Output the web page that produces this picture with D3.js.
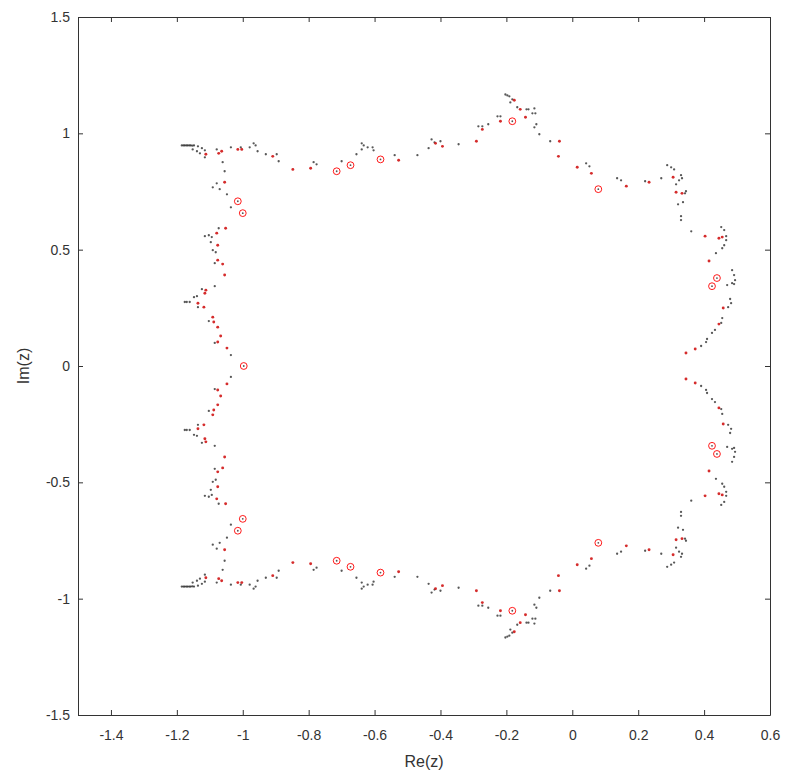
<!DOCTYPE html>
<html>
<head>
<meta charset="utf-8">
<script src="https://cdn.jsdelivr.net/npm/d3@7"></script>
<style>
  html, body { margin: 0; padding: 0; background: #fff; }
  svg { display: block; }
  text { font-family: "Liberation Sans", Arial, Helvetica, sans-serif; }
</style>
</head>
<body>
<div id="chart"></div>
<script>
// Axis ranges and ticks
const xDomain = [-1.5, 0.6];
const yDomain = [-1.5, 1.5];
const xTicks = [-1.4, -1.2, -1, -0.8, -0.6, -0.4, -0.2, 0, 0.2, 0.4, 0.6];
const yTicks = [-1.5, -1, -0.5, 0, 0.5, 1, 1.5];

// Black dots, upper half [re, im]
const blackUpper = [
  [-1.185,0.948],[-1.180,0.948],[-1.176,0.948],[-1.171,0.948],[-1.167,0.948],[-1.162,0.948],[-1.158,0.948],[-1.153,0.947],[-1.148,0.948],
  [-1.136,0.944],[-1.124,0.936],[-1.152,0.931],[-1.139,0.923],[-1.130,0.914],[-1.115,0.927],[-1.115,0.897],[-1.079,0.931],
  [-1.061,0.876],[-1.055,0.837],[-1.091,0.768],[-1.079,0.785],[-1.070,0.760],[-1.048,0.738],[-1.036,0.682],[-1.073,0.592],
  [-1.115,0.558],[-1.103,0.562],[-1.094,0.554],[-1.097,0.532],[-1.091,0.498],[-1.082,0.489],[-1.085,0.442],[-1.085,0.343],
  [-1.124,0.330],[-1.139,0.300],[-1.148,0.296],[-1.170,0.275],[-1.161,0.275],[-1.176,0.275],[-1.136,0.253],[-1.103,0.193],
  [-1.085,0.099],[-1.036,0.047],
  [-1.036,0.940],[-1.006,0.940],[-0.979,0.940],[-0.967,0.957],[-0.961,0.948],[-0.955,0.923],[-0.930,0.910],[-0.897,0.910],
  [-0.891,0.880],[-0.785,0.876],[-0.776,0.867],[-0.700,0.880],[-0.655,0.910],[-0.639,0.957],[-0.633,0.948],[-0.621,0.940],
  [-0.639,0.931],[-0.606,0.940],[-0.603,0.927],[-0.539,0.906],[-0.470,0.906],[-0.436,0.936],[-0.427,0.974],[-0.418,0.961],
  [-0.400,0.966],[-0.345,0.953],[-0.285,1.030],[-0.273,1.030],[-0.255,1.039],[-0.227,1.073],[-0.218,1.073],[-0.167,1.112],
  [-0.139,1.103],[-0.133,1.103],[-0.115,1.107],[-0.112,1.086],[-0.121,1.086],[-0.109,1.039],[-0.115,1.026],[-0.100,0.996],
  [-0.067,0.966],[-0.203,1.167],[-0.197,1.163],[-0.191,1.159],[-0.182,1.146],[-0.188,1.133],
  [0.042,0.871],[0.052,0.858],[0.136,0.807],[0.148,0.798],[0.221,0.794],[0.270,0.807],[0.288,0.863],[0.300,0.854],
  [0.309,0.845],[0.330,0.820],[0.333,0.807],[0.324,0.798],[0.315,0.781],[0.345,0.751],[0.342,0.742],[0.336,0.704],
  [0.321,0.695],[0.330,0.644],[0.330,0.627],[0.361,0.579],[0.452,0.597],[0.461,0.584],[0.467,0.558],[0.467,0.541],
  [0.461,0.519],[0.455,0.506],[0.436,0.485],[0.485,0.412],[0.491,0.391],[0.494,0.369],[0.491,0.352],[0.470,0.348],
  [0.485,0.356],[0.479,0.288],[0.482,0.270],[0.473,0.253],[0.455,0.206],[0.452,0.185],[0.433,0.155],[0.424,0.142],
  [0.409,0.116],[0.406,0.103],[0.391,0.086]
];

// Black dots, lower half [re, im]
const blackLower = [
  [-1.185,-0.948],[-1.180,-0.948],[-1.176,-0.948],[-1.171,-0.948],[-1.167,-0.948],[-1.162,-0.948],[-1.158,-0.948],[-1.153,-0.947],[-1.148,-0.948],
  [-1.136,-0.944],[-1.124,-0.936],[-1.152,-0.931],[-1.139,-0.923],[-1.130,-0.914],[-1.115,-0.927],[-1.115,-0.897],[-1.079,-0.931],
  [-1.061,-0.876],[-1.055,-0.837],[-1.091,-0.768],[-1.079,-0.785],[-1.070,-0.760],[-1.048,-0.738],[-1.036,-0.682],[-1.073,-0.592],
  [-1.115,-0.558],[-1.103,-0.562],[-1.094,-0.554],[-1.097,-0.532],[-1.091,-0.498],[-1.082,-0.489],[-1.085,-0.442],[-1.085,-0.343],
  [-1.124,-0.330],[-1.139,-0.300],[-1.148,-0.296],[-1.170,-0.275],[-1.161,-0.275],[-1.176,-0.275],[-1.136,-0.253],[-1.103,-0.193],
  [-1.085,-0.099],[-1.036,-0.047],
  [-1.036,-0.940],[-1.006,-0.940],[-0.979,-0.940],[-0.967,-0.957],[-0.961,-0.948],[-0.955,-0.923],[-0.930,-0.910],[-0.897,-0.910],
  [-0.891,-0.880],[-0.785,-0.876],[-0.776,-0.867],[-0.700,-0.880],[-0.655,-0.910],[-0.639,-0.957],[-0.633,-0.948],[-0.621,-0.940],
  [-0.639,-0.931],[-0.606,-0.940],[-0.603,-0.927],[-0.539,-0.906],[-0.470,-0.906],[-0.436,-0.936],[-0.427,-0.974],[-0.418,-0.961],
  [-0.400,-0.966],[-0.345,-0.953],[-0.285,-1.030],[-0.273,-1.030],[-0.255,-1.039],[-0.227,-1.073],[-0.218,-1.073],[-0.167,-1.112],
  [-0.139,-1.103],[-0.133,-1.103],[-0.115,-1.107],[-0.112,-1.086],[-0.121,-1.086],[-0.109,-1.039],[-0.115,-1.026],[-0.100,-0.996],
  [-0.067,-0.966],[-0.203,-1.167],[-0.197,-1.163],[-0.191,-1.159],[-0.182,-1.146],[-0.188,-1.133],
  [0.042,-0.871],[0.052,-0.858],[0.136,-0.807],[0.148,-0.798],[0.221,-0.794],[0.270,-0.807],[0.288,-0.863],[0.300,-0.854],
  [0.309,-0.845],[0.330,-0.820],[0.333,-0.807],[0.324,-0.798],[0.315,-0.781],[0.345,-0.751],[0.342,-0.742],[0.336,-0.704],
  [0.321,-0.695],[0.330,-0.644],[0.330,-0.627],[0.361,-0.579],[0.452,-0.597],[0.461,-0.584],[0.467,-0.558],[0.467,-0.541],
  [0.461,-0.519],[0.455,-0.506],[0.436,-0.485],[0.485,-0.412],[0.491,-0.391],[0.494,-0.369],[0.491,-0.352],[0.470,-0.348],
  [0.485,-0.356],[0.479,-0.288],[0.482,-0.270],[0.473,-0.253],[0.455,-0.206],[0.452,-0.185],[0.433,-0.155],[0.424,-0.142],
  [0.409,-0.116],[0.406,-0.103],[0.391,-0.086]
];

// Small red markers [re, im]
const redUpper = [
  [-1.112,0.910],[-1.073,0.914],[-1.064,0.923],[-1.055,0.790],[-1.052,0.592],[-1.079,0.571],[-1.076,0.519],[-1.076,0.455],
  [-1.061,0.438],[-1.055,0.391],[-1.112,0.326],[-1.115,0.313],[-1.136,0.270],[-1.118,0.253],[-1.091,0.210],[-1.088,0.189],
  [-1.076,0.167],[-1.067,0.129],[-1.076,0.103],[-1.048,0.077],[-1.015,0.931],[-1.003,0.931],[-0.909,0.901],[-0.848,0.845],
  [-0.794,0.850],[-0.527,0.884],[-0.415,0.957],[-0.394,0.944],[-0.291,0.966],[-0.273,1.017],[-0.218,1.052],[-0.158,1.103],
  [-0.142,1.069],[-0.176,1.142],[-0.039,0.966],[-0.042,0.901],[0.015,0.854],[0.058,0.828],[0.164,0.773],[0.233,0.790],
  [0.306,0.811],[0.315,0.747],[0.333,0.742],[0.403,0.558],[0.445,0.549],[0.455,0.554],[0.415,0.451],[0.458,0.249],
  [0.445,0.180],[0.373,0.073],[0.345,0.056]
];
const redLower = [
  [-1.112,-0.910],[-1.073,-0.914],[-1.064,-0.923],[-1.055,-0.790],[-1.052,-0.592],[-1.079,-0.571],[-1.076,-0.519],[-1.076,-0.455],
  [-1.061,-0.438],[-1.055,-0.391],[-1.112,-0.326],[-1.115,-0.313],[-1.136,-0.270],[-1.118,-0.253],[-1.091,-0.210],[-1.088,-0.189],
  [-1.076,-0.167],[-1.067,-0.129],[-1.076,-0.103],[-1.048,-0.077],[-1.015,-0.931],[-1.003,-0.931],[-0.909,-0.901],[-0.848,-0.845],
  [-0.794,-0.850],[-0.527,-0.884],[-0.415,-0.957],[-0.394,-0.944],[-0.291,-0.966],[-0.273,-1.017],[-0.218,-1.052],[-0.158,-1.103],
  [-0.142,-1.069],[-0.176,-1.142],[-0.039,-0.966],[-0.042,-0.901],[0.015,-0.854],[0.058,-0.828],[0.164,-0.773],[0.233,-0.790],
  [0.306,-0.811],[0.315,-0.747],[0.333,-0.742],[0.403,-0.558],[0.445,-0.549],[0.455,-0.554],[0.415,-0.451],[0.458,-0.249],
  [0.445,-0.180],[0.373,-0.073],[0.345,-0.056]
];

// Larger red circles [re, im]
const circleUpper = [
  [-1.015,0.708],[-1.000,0.657],[-0.715,0.837],[-0.673,0.863],[-0.582,0.888],[-0.182,1.052],[0.079,0.760],[0.439,0.378],[0.424,0.343]
];
const circleAxis = [[-0.997,0]];
const circleLower = [
  [-1.015,-0.708],[-1.000,-0.657],[-0.715,-0.837],[-0.673,-0.863],[-0.582,-0.888],[-0.182,-1.052],[0.079,-0.760],[0.439,-0.378],[0.424,-0.343]
];

const width = 790, height = 779;
const margin = { top: 17, right: 20, bottom: 64, left: 78 };
const innerW = width - margin.left - margin.right;
const innerH = height - margin.top - margin.bottom;
const axisColor = '#333';

const svg = d3.select('#chart').append('svg')
  .attr('width', width)
  .attr('height', height);

const g = svg.append('g')
  .attr('transform', `translate(${margin.left},${margin.top})`);

const x = d3.scaleLinear().domain(xDomain).range([0, innerW]);
const y = d3.scaleLinear().domain(yDomain).range([innerH, 0]);

// MATLAB prints a plain hyphen for negatives
const fmt = d => d3.format('~g')(d).replace('\u2212', '-');

// Points
const blacks = blackUpper.concat(blackLower);
const reds = redUpper.concat(redLower);
const circles = circleUpper.concat(circleAxis, circleLower);

g.append('g').selectAll('circle')
  .data(blacks)
  .join('circle')
  .attr('cx', d => x(d[0]))
  .attr('cy', d => y(d[1]))
  .attr('r', 1.15)
  .attr('fill', '#111')
  .attr('fill-opacity', 0.7);

g.append('g').selectAll('circle')
  .data(reds)
  .join('circle')
  .attr('cx', d => x(d[0]))
  .attr('cy', d => y(d[1]))
  .attr('r', 1.45)
  .attr('fill', '#d01515')
  .attr('fill-opacity', 0.9);

const circleG = g.append('g');
circleG.selectAll('circle.ring')
  .data(circles)
  .join('circle')
  .attr('class', 'ring')
  .attr('cx', d => x(d[0]))
  .attr('cy', d => y(d[1]))
  .attr('r', 3.4)
  .attr('fill', 'none')
  .attr('stroke', '#f00')
  .attr('stroke-width', 0.9);
circleG.selectAll('circle.dot')
  .data(circles)
  .join('circle')
  .attr('class', 'dot')
  .attr('cx', d => x(d[0]))
  .attr('cy', d => y(d[1]))
  .attr('r', 0.9)
  .attr('fill', '#555');

// Axes (MATLAB style box with inward ticks)
function styleAxis(sel) {
  sel.selectAll('.domain').attr('stroke', axisColor);
  sel.selectAll('.tick line').attr('stroke', axisColor);
  sel.selectAll('.tick text')
    .attr('fill', '#333')
    .attr('font-size', '14px')
    .attr('font-family', '"Liberation Sans", Arial, sans-serif');
}

g.append('g')
  .attr('transform', `translate(0,${innerH})`)
  .call(d3.axisBottom(x).tickValues(xTicks).tickSizeInner(-5).tickSizeOuter(0).tickPadding(15).tickFormat(fmt))
  .call(styleAxis);

g.append('g')
  .call(d3.axisTop(x).tickValues(xTicks).tickSizeInner(-5).tickSizeOuter(0).tickFormat(''))
  .call(styleAxis);

g.append('g')
  .call(d3.axisLeft(y).tickValues(yTicks).tickSizeInner(-5).tickSizeOuter(0).tickPadding(8).tickFormat(fmt))
  .call(styleAxis);

g.append('g')
  .attr('transform', `translate(${innerW},0)`)
  .call(d3.axisRight(y).tickValues(yTicks).tickSizeInner(-5).tickSizeOuter(0).tickFormat(''))
  .call(styleAxis);

// Axis labels
svg.append('text')
  .attr('x', margin.left + innerW / 2)
  .attr('y', 767)
  .attr('text-anchor', 'middle')
  .attr('font-size', '16px')
  .attr('fill', '#333')
  .text('Re(z)');

svg.append('text')
  .attr('transform', `translate(29,${margin.top + innerH / 2}) rotate(-90)`)
  .attr('text-anchor', 'middle')
  .attr('font-size', '16px')
  .attr('fill', '#333')
  .text('Im(z)');
</script>
</body>
</html>
